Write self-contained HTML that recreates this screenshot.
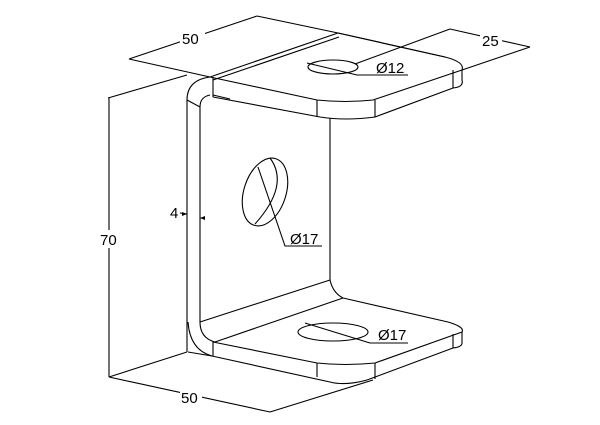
<!DOCTYPE html>
<html><head><meta charset="utf-8"><style>
html,body{margin:0;padding:0;background:#fff;}
svg{display:block}
text{font-family:"Liberation Sans",sans-serif;font-size:15px;fill:#000}
</style></head><body>
<svg width="600" height="425" viewBox="0 0 600 425" xmlns="http://www.w3.org/2000/svg">
<g fill="none" stroke="#000" stroke-width="1.1" stroke-linejoin="round">
<path d="M129,59 L257,16"/>
<path d="M129,59 L210,77"/>
<path d="M257,16 L338,33 L445,57"/>
<path d="M450,29 L530,47"/>
<path d="M450,29 L355,64"/>
<path d="M530,47 L462,70"/>
<path d="M210,77 L338,33"/>
<path d="M213,80 L339,37"/>
<path d="M338,33 L445,57 Q465,62 462,70 L373,100 Q345,103 317,100 L210,77"/>
<path d="M462,70 L462,80 Q464,87 453,88 L375,117 Q345,121 320,117 L213,97"/>
<path d="M317,100 L317,117 M375,100 L375,117 M453,70 L453,88"/>
<path d="M213,77 L213,97"/>
<path d="M213,95 L230,99"/>
<path d="M210,77 Q187,80 187,100"/>
<path d="M210,95 Q200,97 200,107"/>
<path d="M187,100 L200,107"/>
<path d="M187,100 L187,352"/>
<path d="M200,107 L200,322"/>
<path d="M330,118 L330,280 Q333,293 343,298"/>
<path d="M108,98 L187,75"/>
<path d="M109,98 L109,377"/>
<path d="M109,377 L187,352"/>
<path d="M109,377 L270,412 L373,380"/>
<path d="M200,322 L330,280"/>
<path d="M200,322 Q200,338 215,342"/>
<path d="M188,322 Q190,350 212,356"/>
<path d="M215,342 L343,298"/>
<path d="M343,298 L448,322 Q465,327 462,332 L375,363 Q345,366 317,363 L213,342"/>
<path d="M462,332 L462,343 Q462,347 453,348 L367,380 Q345,386 330,382 L212,356"/>
<path d="M213,342 L213,356 M317,363 L317,377 M375,363 L375,379 M453,334 L453,348"/>
<path d="M188,352 L212,356"/>
<ellipse cx="333" cy="67" rx="25" ry="7"/>
<path d="M307,63 L357,75 L408,75"/>
<ellipse cx="333" cy="332" rx="35" ry="9"/>
<path d="M305,323 L370,343 L408,343"/>
<ellipse cx="265" cy="192" rx="21" ry="35" transform="rotate(18 265 192)"/>
<path d="M270,158 Q290,185 255,224"/>
<path d="M258,167 L285,246 L322,246"/>
<path d="M180,213 L187,214 M205,218 L200,218"/>
</g>
<g fill="#000">
<path d="M187,214 l-5,-2 l0,4z"/>
<path d="M200,218 l5,-2 l0,4z"/>
</g>
<rect x="180" y="28" width="25" height="17" fill="#fff"/>
<text x="182" y="44">50</text>
<rect x="480" y="30" width="22" height="17" fill="#fff"/>
<text x="482" y="46">25</text>
<text x="376" y="73">Ø12</text>
<text x="290" y="244">Ø17</text>
<text x="378" y="340">Ø17</text>
<rect x="99" y="230" width="22" height="18" fill="#fff"/>
<text x="100" y="245">70</text>
<rect x="180" y="387" width="22" height="18" fill="#fff"/>
<text x="181" y="403">50</text>
<text x="170" y="218">4</text>
</svg>
</body></html>
